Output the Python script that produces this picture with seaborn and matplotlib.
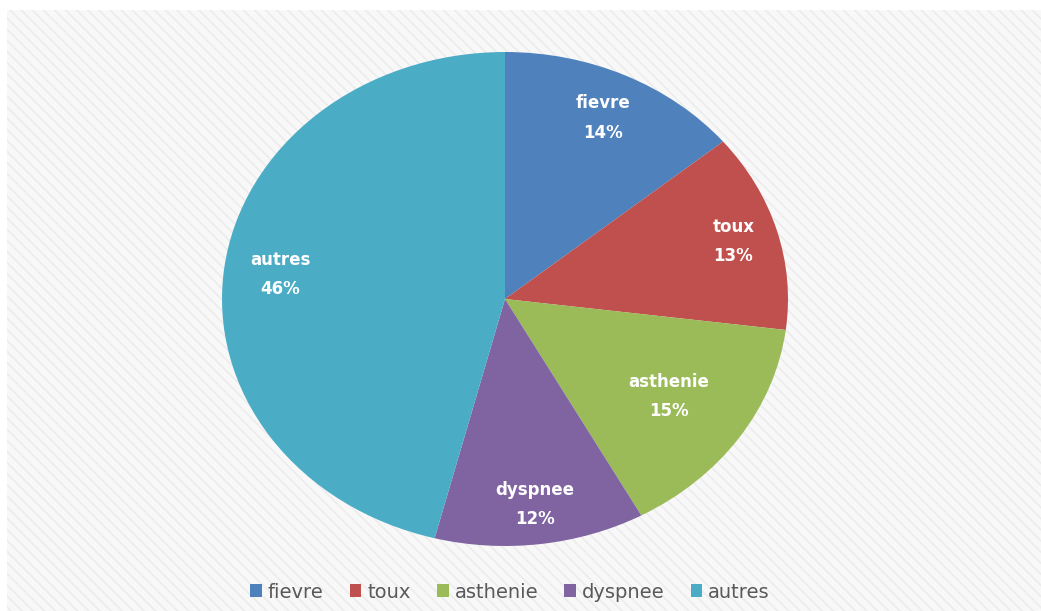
import matplotlib
matplotlib.use("Agg")
import matplotlib.pyplot as plt
from matplotlib.patches import Rectangle
import numpy as np
import seaborn as sns

categories = ["fievre", "toux", "asthenie", "dyspnee", "autres"]
values = [14, 13, 15, 12, 46]
colors_hex = ["#4F81BD", "#C0504D", "#9BBB59", "#8064A2", "#4BACC6"]
label_dist = [0.81, 0.84, 0.70, 0.84, 0.80]

sns.set_theme(style="white")
plt.rcParams['font.family'] = ['DejaVu Sans']
palette = sns.color_palette(colors_hex)

fig = plt.figure(figsize=(10.41, 6.11), dpi=100)
fig.patch.set_facecolor("white")
plt.rcParams['hatch.linewidth'] = 1.2
bg = Rectangle((7/1041, 0), 1 - 7/1041, 1 - 10/611, transform=fig.transFigure,
               facecolor="#f8f8f8", edgecolor="#ececec", hatch="\\\\\\", linewidth=0, zorder=-10)
fig.patches.append(bg)

ax = fig.add_axes([222/1041, 65/611, 566/1041, 494/611])
ax.set_facecolor("none")
wedges, texts = ax.pie(values, colors=palette, startangle=90, counterclock=False,
                       wedgeprops=dict(linewidth=0))
for w, c, v, d in zip(wedges, categories, values, label_dist):
    ang = np.deg2rad((w.theta1 + w.theta2) / 2)
    ax.text(d * np.cos(ang), d * np.sin(ang), f"{c}\n{v}%", color="white",
            fontsize=12, fontweight="bold", ha="center", va="center", linespacing=1.8)
ax.set_aspect("auto")
ax.set_xlim(-1, 1)
ax.set_ylim(-1, 1)
ax.axis("off")

leg = fig.legend(wedges, categories, loc="center", bbox_to_anchor=(510/1041, 1 - 592/611),
                 ncol=5, frameon=False, fontsize=14, handlelength=0.6, handleheight=0.6,
                 handletextpad=0.3, columnspacing=1.35, labelcolor="#595959")

fig.savefig("out.png", dpi=100)
